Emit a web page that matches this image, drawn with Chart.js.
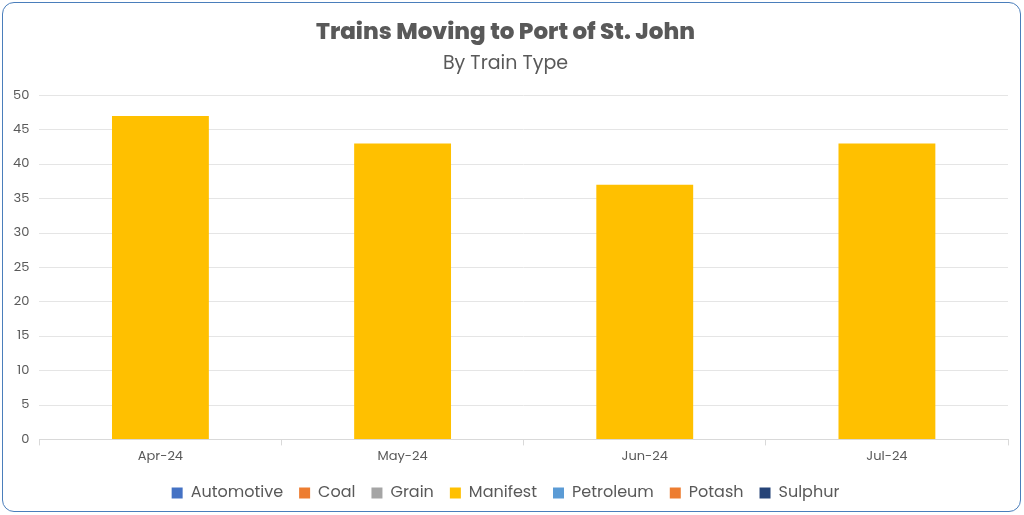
<!DOCTYPE html>
<html><head><meta charset="utf-8">
<script src="https://cdn.jsdelivr.net/npm/chart.js@4/dist/chart.umd.min.js"></script>
<style>
html,body{margin:0;padding:0;background:#fff;}
#wrap{position:absolute;left:2px;top:2px;width:1019px;height:510px;border:1.5px solid #4a7ebb;border-radius:12px;box-sizing:border-box;}
canvas{display:block}
</style></head><body>
<div id="wrap"><canvas id="c"></canvas></div>
<script>
const categories = ['Apr-24','May-24','Jun-24','Jul-24'];
const automotive = [0,0,0,0];
const coal = [0,0,0,0];
const grain = [0,0,0,0];
const manifest = [47,43,37,43];
const petroleum = [0,0,0,0];
const potash = [0,0,0,0];
const sulphur = [0,0,0,0];
const seriesNames = ['Automotive','Coal','Grain','Manifest','Petroleum','Potash','Sulphur'];
const seriesData = [automotive,coal,grain,manifest,petroleum,potash,sulphur];
const colors = ['#4472c4','#ed7d31','#a5a5a5','#ffc000','#5b9bd5','#ed7d31','#264478'];
const font = 'Poppins, "Open Sans", sans-serif';
new Chart(document.getElementById('c'), {
  type: 'bar',
  data: { labels: categories, datasets: seriesNames.map((n,i)=>({label:n,data:seriesData[i],backgroundColor:colors[i],borderWidth:0})) },
  options: {
    responsive:true, maintainAspectRatio:false, animation:false,
    layout:{padding:{left:0,right:12,top:16,bottom:0}},
    plugins:{
      title:{display:true,text:'Trains Moving to Port of St. John',color:'#595959',font:{family:font,size:23,weight:'800'},padding:{top:0,bottom:6}},
      subtitle:{display:true,text:'By Train Type',color:'#595959',font:{family:font,size:19},padding:{bottom:20}},
      legend:{position:'bottom',labels:{boxWidth:11,boxHeight:11,color:'#595959',font:{family:font,size:16},padding:16}},
      tooltip:{enabled:false}
    },
    scales:{
      x:{stacked:true,grid:{display:true,drawOnChartArea:false,tickLength:6,color:'#d9d9d9'},border:{color:'#d9d9d9'},ticks:{color:'#595959',font:{family:font,size:13},padding:4}},
      y:{stacked:true,min:0,max:50,ticks:{stepSize:5,color:'#595959',font:{family:font,size:13},padding:10},grid:{color:'#e5e5e5',drawTicks:false},border:{display:false}}
    },
    datasets:{bar:{categoryPercentage:0.8,barPercentage:0.5}}
  }
});
</script></body></html>
